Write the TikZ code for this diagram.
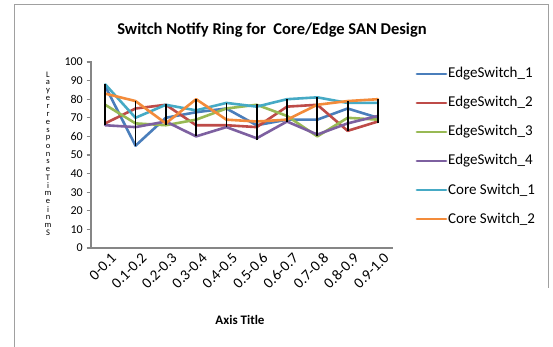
\documentclass[tikz,border=0pt]{standalone}
\usepackage{fontspec}
\setmainfont{Carlito}
\definecolor{serblue}{HTML}{4A7EBB}
\definecolor{serred}{HTML}{BE4B48}
\definecolor{sergreen}{HTML}{98B954}
\definecolor{serpurple}{HTML}{7D60A0}
\definecolor{sercyan}{HTML}{46AAC5}
\definecolor{serorange}{HTML}{F38B3A}
\definecolor{axisgray}{HTML}{868686}
\definecolor{framegray}{HTML}{A0A0A0}
\tikzset{
  series/.style={line width=2.6pt, line join=round, line cap=round},
  hilo/.style={line width=1.8pt, black},
  axisline/.style={axisgray, line width=1.4pt},
  ticklabel/.style={font=\fontsize{12}{13}\selectfont, inner sep=1pt},
  catlabel/.style={font=\fontsize{15}{16}\selectfont, inner sep=0pt, rotate=45, anchor=north east},
  legtext/.style={font=\fontsize{15}{16}\selectfont, anchor=west, inner sep=0pt},
  legline/.style={line width=2.8pt, line cap=round},
}
\begin{document}
\begin{tikzpicture}[x=1pt,y=-1pt]
\useasboundingbox (0,0) rectangle (553,347);
\fill[white] (0,0) rectangle (553,347);
% chart frame
\draw[framegray, line width=1pt] (14,347) -- (14,5) -- (548,5) -- (548,288);
% title
\node[font=\fontsize{16.5}{18}\selectfont\bfseries] (title) at (272,30) {Switch Notify Ring for\ \ Core/Edge SAN Design};
% axes
\draw[axisline] (91,61.5) -- (91,248) -- (393,248);
\foreach \v in {0,10,...,100} {
  \pgfmathsetmacro\yy{248-1.86*\v}
  \draw[axisline, line width=1.1pt] (86.5,\yy) -- (91,\yy);
  \node[ticklabel, anchor=east] (y\v) at (84,\yy) {\v};
}
% stacked vertical axis title
\foreach \c [count=\k] in {L,a,y,e,r,r,e,s,p,o,n,s,e,T,i,m,e,i,n,m,S} {
  \node[font=\fontsize{8.5}{8.5}\selectfont, inner sep=0pt] (yt\k) at (48,{75+7.9*(\k-1)}) {\c};
}
% category labels
\foreach \lab [count=\i] in {0-0.1,0.1-0.2,0.2-0.3,0.3-0.4,0.4-0.5,0.5-0.6,0.6-0.7,0.7-0.8,0.8-0.9,0.9-1.0} {
  \node[catlabel] (c\i) at ({74.9+30.3*\i+5},252) {\lab};
}
\node[font=\fontsize{13}{15}\selectfont\bfseries] (xtitle) at (240,320) {Axis Title};
% data series (x = category index, y = value)
\begin{scope}[shift={(74.9,248)}, xscale=30.3, yscale=-1.86]
\draw[series, serblue]   (1,87) -- (2,55) -- (3,70) -- (4,73) -- (5,75) -- (6,66) -- (7,69) -- (8,69) -- (9,75) -- (10,70);
\draw[series, serred]    (1,67) -- (2,75) -- (3,77) -- (4,66) -- (5,66) -- (6,65) -- (7,76) -- (8,77) -- (9,63) -- (10,68);
\draw[series, sergreen]  (1,77) -- (2,67) -- (3,66) -- (4,69) -- (5,75) -- (6,77) -- (7,71) -- (8,60) -- (9,70) -- (10,69);
\draw[series, serpurple] (1,66) -- (2,65) -- (3,68) -- (4,60) -- (5,65) -- (6,59) -- (7,68) -- (8,61) -- (9,67) -- (10,71);
\draw[series, sercyan]   (1,88) -- (2,70) -- (3,77) -- (4,74) -- (5,78) -- (6,76) -- (7,80) -- (8,81) -- (9,78) -- (10,78);
\draw[series, serorange] (1,83) -- (2,79) -- (3,67) -- (4,80) -- (5,69) -- (6,68) -- (7,69) -- (8,77) -- (9,79) -- (10,80);
% high-low bars
\foreach \i/\lo/\hi in {1/66/88,2/55/79,3/66/77.5,4/60/80,5/65/78,6/58/77.5,7/68/80,8/60/81,9/63/79,10/67/80} {
  \draw[hilo] (\i,\lo) -- (\i,\hi);
}
\end{scope}
% legend
\foreach \col/\txt/\yy [count=\k] in {serblue/EdgeSwitch\_1/74,serred/EdgeSwitch\_2/103,sergreen/EdgeSwitch\_3/132,serpurple/EdgeSwitch\_4/161,sercyan/Core Switch\_1/190,serorange/Core Switch\_2/219} {
  \draw[legline, \col] (417,\yy) -- (446,\yy);
  \node[legtext] (leg\k) at (448,\yy) {\txt};
}
\end{tikzpicture}
\end{document}
